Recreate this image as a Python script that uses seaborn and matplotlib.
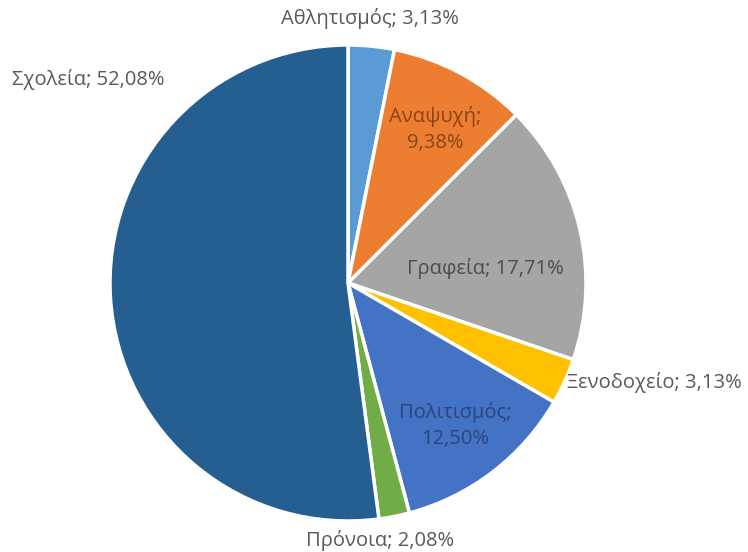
import matplotlib
matplotlib.use("Agg")
import matplotlib.pyplot as plt
import seaborn as sns

categories = ["Αθλητισμός", "Αναψυχή", "Γραφεία", "Ξενοδοχείο", "Πολιτισμός", "Πρόνοια", "Σχολεία"]
values = [3.13, 9.38, 17.71, 3.13, 12.50, 2.08, 52.08]
label_texts = ["Αθλητισμός; 3,13%", "Αναψυχή;\n9,38%", "Γραφεία; 17,71%", "Ξενοδοχείο; 3,13%",
               "Πολιτισμός;\n12,50%", "Πρόνοια; 2,08%", "Σχολεία; 52,08%"]

colors = ["#5B9BD5", "#ED7D31", "#A5A5A5", "#FFC000", "#4472C4", "#70AD47", "#255E91"]
text_colors = ["#595959", "#8A4516", "#4D4D4D", "#595959", "#2A4580", "#595959", "#595959"]
label_pos = [(0.092, 1.113), (0.366, 0.643), (0.576, 0.063), (0.920, -0.416),
             (0.450, -0.597), (0.134, -1.080), (-1.092, 0.853)]
label_ha = ["center", "center", "center", "left", "center", "center", "center"]

sns.set_style("white")
plt.rcParams["font.family"] = ["Open Sans", "DejaVu Sans"]

fig = plt.figure(figsize=(7.48, 5.52), dpi=100)
cx, cy, R = 348, 283, 238
W, H = 748, 552
ax = fig.add_axes([(cx - R) / W, (H - cy - R) / H, 2 * R / W, 2 * R / H])
ax.pie(values, colors=colors, startangle=90, counterclock=False, radius=1,
       wedgeprops=dict(edgecolor="white", linewidth=2.5))
for txt, pos, c, ha in zip(label_texts, label_pos, text_colors, label_ha):
    ax.text(pos[0], pos[1], txt, ha=ha, va="center", color=c, fontsize=14.5,
            linespacing=1.4, multialignment="center")
ax.set_xlim(-1, 1)
ax.set_ylim(-1, 1)
ax.set_aspect("equal")
ax.axis("off")
fig.savefig("out.png", dpi=100, facecolor="white")
